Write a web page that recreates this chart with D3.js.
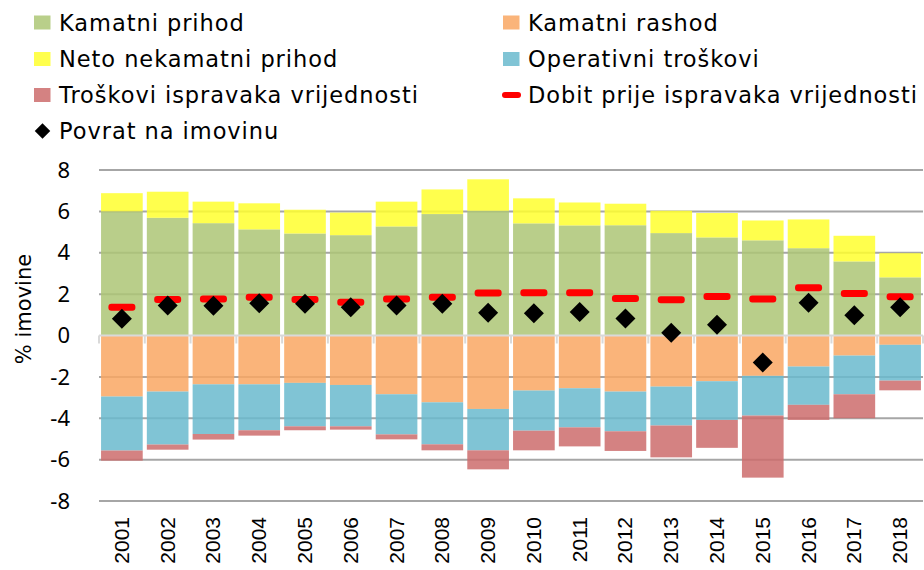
<!DOCTYPE html>
<html><head><meta charset="utf-8">
<script src="https://cdn.jsdelivr.net/npm/d3@7"></script>
<style>body{margin:0;background:#fff}svg{display:block}</style>
</head><body>
<svg id="chart" width="924" height="570"></svg>
<script>
const years = ["2001","2002","2003","2004","2005","2006","2007","2008","2009","2010","2011","2012","2013","2014","2015","2016","2017","2018"];
const kamatniPrihod = [6.00,5.69,5.43,5.13,4.93,4.85,5.27,5.87,6.03,5.42,5.32,5.33,4.95,4.74,4.60,4.22,3.58,2.81];
const netoNekamatniPrihod = [0.88,1.26,1.04,1.26,1.15,1.09,1.20,1.19,1.52,1.21,1.11,1.04,1.08,1.18,0.96,1.39,1.24,1.17];
const kamatniRashod = [-2.95,-2.71,-2.36,-2.36,-2.29,-2.39,-2.84,-3.23,-3.55,-2.66,-2.55,-2.71,-2.47,-2.21,-1.95,-1.50,-0.97,-0.45];
const operativniTroskovi = [-2.61,-2.56,-2.40,-2.22,-2.10,-2.00,-1.94,-2.03,-2.00,-1.94,-1.89,-1.92,-1.88,-1.87,-1.92,-1.85,-1.87,-1.73];
const troskoviIspravaka = [-0.49,-0.25,-0.27,-0.26,-0.19,-0.16,-0.24,-0.29,-0.92,-0.95,-0.92,-0.95,-1.54,-1.35,-3.00,-0.73,-1.16,-0.47];
const dobitPrijeIspravaka = [1.37,1.74,1.76,1.85,1.74,1.61,1.76,1.85,2.05,2.07,2.07,1.79,1.73,1.89,1.76,2.31,2.03,1.87];
const povratNaImovinu = [0.81,1.45,1.44,1.56,1.53,1.37,1.45,1.53,1.10,1.08,1.13,0.82,0.13,0.52,-1.31,1.58,0.98,1.37];
const yTicks = [-8,-6,-4,-2,0,2,4,6,8];
const seriesNames = ["Kamatni prihod","Kamatni rashod","Neto nekamatni prihod","Operativni troškovi","Troškovi ispravaka vrijednosti","Dobit prije ispravaka vrijednosti","Povrat na imovinu"];

const colors = {
  "Kamatni prihod": "rgb(173,198,117)",
  "Neto nekamatni prihod": "rgb(255,255,46)",
  "Kamatni rashod": "rgb(249,167,99)",
  "Operativni troškovi": "rgb(106,186,206)",
  "Troškovi ispravaka vrijednosti": "rgb(204,108,108)"
};
const legendColors = {
  "Kamatni prihod": "#B9CF8A",
  "Neto nekamatni prihod": "#FFFF4D",
  "Kamatni rashod": "#FAB47A",
  "Operativni troškovi": "#80C4D5",
  "Troškovi ispravaka vrijednosti": "#D48282"
};

const svg = d3.select("#chart");
const font = "'Noto Sans', 'DejaVu Sans', sans-serif";
const legendFont = "'DejaVu Sans', 'Noto Sans', sans-serif";
const x = d3.scaleBand().domain(years).range([99, 923]).paddingInner(0.09).paddingOuter(0.045);
const y = d3.scaleLinear().domain([-8, 8]).range([501, 170]);

// gridlines
svg.append("g").selectAll("line").data(yTicks.filter(t => t !== 0)).join("line")
  .attr("x1", 99).attr("x2", 923)
  .attr("y1", d => y(d)).attr("y2", d => y(d))
  .attr("stroke", "#A6A6A6").attr("stroke-width", 2);

// stacked bars
const rows = years.map((yr, i) => ({
  year: yr,
  pos: [["Kamatni prihod", kamatniPrihod[i]], ["Neto nekamatni prihod", netoNekamatniPrihod[i]]],
  neg: [["Kamatni rashod", kamatniRashod[i]], ["Operativni troškovi", operativniTroskovi[i]], ["Troškovi ispravaka vrijednosti", troskoviIspravaka[i]]]
}));
const rects = [];
rows.forEach(r => {
  let base = 0;
  r.pos.forEach(([n, v]) => { rects.push({year: r.year, name: n, y0: base, y1: base + v}); base += v; });
  base = 0;
  r.neg.forEach(([n, v]) => { rects.push({year: r.year, name: n, y0: base, y1: base + v}); base += v; });
});
svg.append("g").selectAll("rect").data(rects).join("rect")
  .attr("x", d => x(d.year))
  .attr("width", x.bandwidth())
  .attr("y", d => y(Math.max(d.y0, d.y1)))
  .attr("height", d => Math.abs(y(d.y0) - y(d.y1)))
  .attr("fill", d => colors[d.name])
  .attr("fill-opacity", 0.85);

// zero axis line + ticks
const ax = svg.append("g");
ax.append("line").attr("x1", 99).attr("x2", 923).attr("y1", y(0)).attr("y2", y(0))
  .attr("stroke", "#D9D9D9").attr("stroke-width", 2);
const boundaries = years.map(yr => x(yr) - x.step() * x.paddingInner() / 2).concat([923]);
ax.selectAll("line.tk").data(boundaries).join("line").attr("class", "tk")
  .attr("x1", d => d).attr("x2", d => d).attr("y1", y(0)).attr("y2", y(0) + 8)
  .attr("stroke", "#D9D9D9").attr("stroke-width", 2);

// red dashes
svg.append("g").selectAll("rect").data(years).join("rect")
  .attr("x", d => x(d) + x.bandwidth() / 2 - 13.5)
  .attr("y", (d, i) => y(dobitPrijeIspravaka[i]) - 3.5)
  .attr("width", 27).attr("height", 7).attr("rx", 3)
  .attr("fill", "#FF0000");

// diamonds
const diamond = d3.symbol().type(d3.symbolSquare).size(200);
svg.append("g").selectAll("path").data(years).join("path")
  .attr("d", diamond)
  .attr("transform", (d, i) => `translate(${x(d) + x.bandwidth() / 2},${y(povratNaImovinu[i])}) rotate(45)`)
  .attr("fill", "#000");

// y axis labels
svg.append("g").selectAll("text").data(yTicks).join("text")
  .attr("x", 70).attr("y", d => y(d)).attr("dy", "0.35em")
  .attr("text-anchor", "end")
  .attr("font-family", font).attr("font-size", 22).attr("fill", "#000")
  .text(d => d);

svg.append("text")
  .attr("transform", "translate(31,309) rotate(-90)")
  .attr("text-anchor", "middle")
  .attr("font-family", legendFont).attr("font-size", 21).attr("fill", "#000")
  .text("% imovine");

// x labels
svg.append("g").selectAll("text").data(years).join("text")
  .attr("transform", d => `translate(${x(d) + x.bandwidth() / 2 + 7},517) rotate(-90)`)
  .attr("text-anchor", "end")
  .attr("font-family", "'Liberation Sans', Arial, sans-serif").attr("font-size", 21).attr("fill", "#000")
  .text(d => d);

// legend
const legendItems = [
  {name: "Kamatni prihod", col: 0, row: 0, type: "rect"},
  {name: "Kamatni rashod", col: 1, row: 0, type: "rect"},
  {name: "Neto nekamatni prihod", col: 0, row: 1, type: "rect"},
  {name: "Operativni troškovi", col: 1, row: 1, type: "rect"},
  {name: "Troškovi ispravaka vrijednosti", col: 0, row: 2, type: "rect"},
  {name: "Dobit prije ispravaka vrijednosti", col: 1, row: 2, type: "line"},
  {name: "Povrat na imovinu", col: 0, row: 3, type: "diamond"}
];
const colX = [34, 503];
const rowY = [22.5, 59, 95, 131];
const lg = svg.append("g");
legendItems.forEach(it => {
  const g = lg.append("g").attr("transform", `translate(${colX[it.col]},${rowY[it.row]})`);
  if (it.type === "rect") {
    g.append("rect").attr("x", 0).attr("y", -7).attr("width", 16.5).attr("height", 14).attr("fill", legendColors[it.name]);
  } else if (it.type === "line") {
    g.append("line").attr("x1", 2).attr("x2", 15).attr("y1", 0).attr("y2", 0)
      .attr("stroke", "#FF0000").attr("stroke-width", 6).attr("stroke-linecap", "round");
  } else {
    g.append("path").attr("d", d3.symbol().type(d3.symbolSquare).size(120)).attr("transform", "translate(8.5,0) rotate(45)").attr("fill", "#000");
  }
  g.append("text").attr("x", 25).attr("y", 0).attr("dy", "0.36em")
    .attr("font-family", legendFont).attr("font-size", 22.5).attr("letter-spacing", 0.95).attr("fill", "#000")
    .text(it.name);
});
</script>
</body></html>
